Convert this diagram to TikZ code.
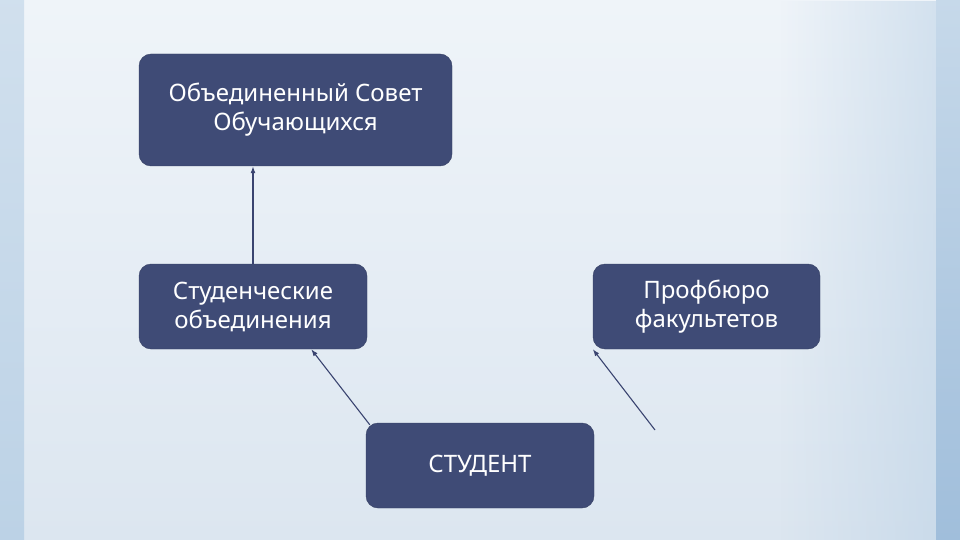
\documentclass[tikz,border=0pt]{standalone}
\usepackage{fontspec}
\setmainfont{Noto Sans}
\usetikzlibrary{arrows.meta,calc,fadings}
\definecolor{boxblue}{HTML}{3F4B76}
\definecolor{linkblue}{HTML}{3A4470}
\definecolor{bgtop}{HTML}{EFF4F9}
\definecolor{bgbot}{HTML}{DCE6F0}
\definecolor{edgeblue}{HTML}{BCD2E6}
\definecolor{stripblue}{HTML}{A0BEDB}

\begin{document}
\begin{tikzpicture}[x=1pt,y=-1pt,
    unit/.style={draw=boxblue!85!black, fill=boxblue, rounded corners=12pt,
        text=white, align=center, inner sep=0pt,
        font=\fontsize{24}{29}\selectfont},
    link/.style={draw=linkblue, line width=1.1pt, -{Latex[length=7pt,width=5pt]}}]
    % Background
    \useasboundingbox (0,0) rectangle (960,540);
    \shade[top color=bgtop, bottom color=bgbot] (0,0) rectangle (960,540);
    \fill[edgeblue, path fading=west, opacity=0.55] (780,0) rectangle (936,540);
    \shade[top color=edgeblue!60!bgtop, bottom color=edgeblue] (0,0) rectangle (24,540);
    \shade[top color=edgeblue!80!bgtop, bottom color=stripblue] (936,0) rectangle (960,540);

    % Boxes
    \node[unit, minimum width=313pt, minimum height=112pt] (council) at (295.5,110)
        {Объединенный Совет\\Обучающихся};
    \node[unit, minimum width=228pt, minimum height=85pt] (studobj) at (253,306.5)
        {Студенческие\\объединения};
    \node[unit, minimum width=227pt, minimum height=85pt] (prof) at (706.5,306.5)
        {Профбюро\\факультетов};
    \node[unit, minimum width=228pt, minimum height=85pt] (student) at (480,465.5)
        {СТУДЕНТ};

    % Links
    \draw[link] (studobj.north) -- (studobj.north |- council.south);
    \draw[link] ($(student.north west)+(4,2)$) -- ($(studobj.south east)+(-56,0)$);
    \coordinate (pfree) at (655,430);
    \draw[link] (pfree) -- (prof.south west);
\end{tikzpicture}
\end{document}
